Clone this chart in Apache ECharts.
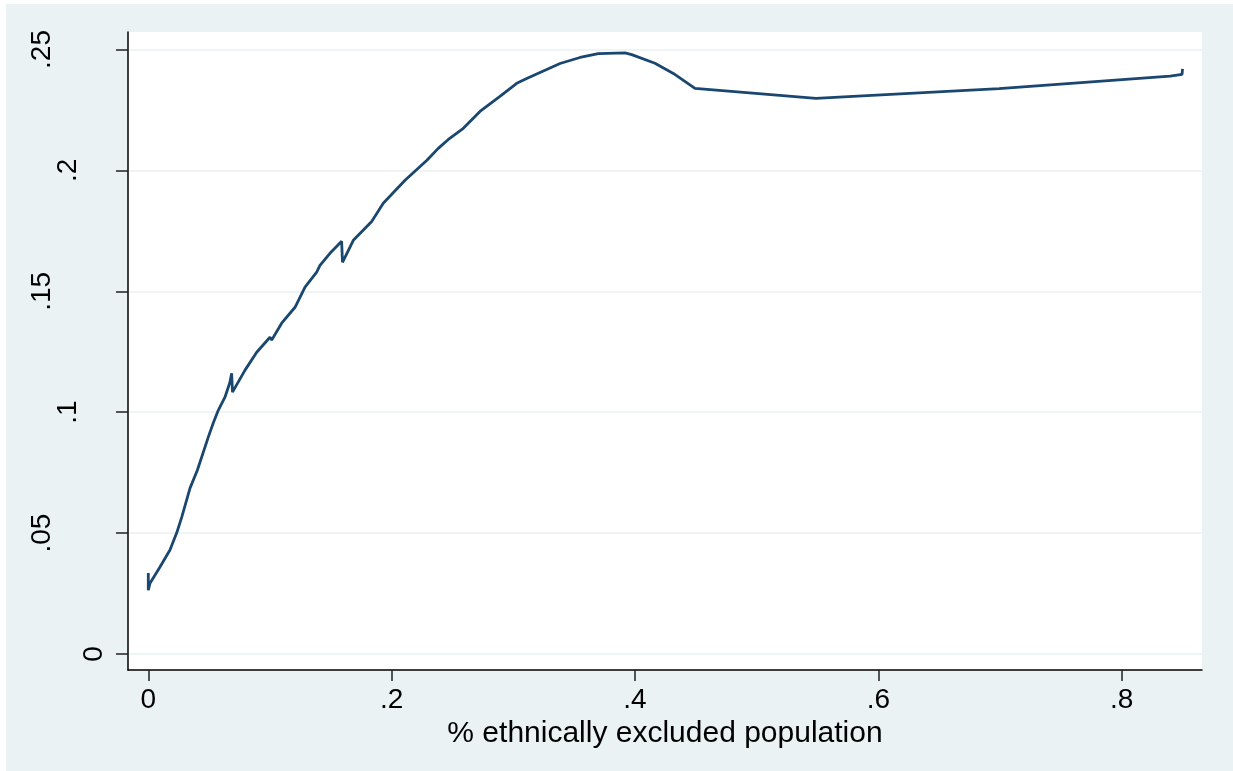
<!DOCTYPE html>
<html>
<head>
<meta charset="utf-8">
<script src="https://cdn.jsdelivr.net/npm/echarts@6/dist/echarts.min.js"></script>
<style>
  html, body { margin: 0; padding: 0; background: #fff; }
  #chart { position: absolute; left: 6px; top: 4px; width: 1227px; height: 767px; }
</style>
</head>
<body>
<div id="chart"></div>
<script>
// share of excluded population (x) and fitted value (y)
var xValues = [
  0, 0, 0.0014, 0.0096, 0.0178, 0.0233, 0.0275, 0.0343, 0.0403, 0.0493,
  0.0534, 0.0575, 0.0630, 0.0671, 0.0685, 0.0692, 0.0795, 0.0891, 0.1000, 0.1014,
  0.1096, 0.1206, 0.1288, 0.1384, 0.1411, 0.1493, 0.1589, 0.1596, 0.1685, 0.1836,
  0.1931, 0.2110, 0.2288, 0.2383, 0.2466, 0.2589, 0.2726, 0.2890, 0.3028, 0.3110,
  0.3384, 0.3548, 0.3698, 0.3918, 0.3973, 0.4164, 0.4315, 0.4493, 0.5488, 0.5792,
  0.5808, 0.6992, 0.7008, 0.8398, 0.8406, 0.8496, 0.8500
];
var yValues = [
  0.0335, 0.0264, 0.0293, 0.0360, 0.0430, 0.0500, 0.0566, 0.0686, 0.0760, 0.0897,
  0.0955, 0.1008, 0.1062, 0.1124, 0.1161, 0.1083, 0.1174, 0.1248, 0.1310, 0.1298,
  0.1368, 0.1434, 0.1517, 0.1579, 0.1607, 0.1657, 0.1707, 0.1620, 0.1711, 0.1789,
  0.1864, 0.1959, 0.2041, 0.2091, 0.2128, 0.2174, 0.2244, 0.2306, 0.2360, 0.2380,
  0.2442, 0.2467, 0.2483, 0.2486, 0.2479, 0.2443, 0.2401, 0.2339, 0.2298, 0.2306,
  0.2298, 0.2338, 0.2345, 0.2390, 0.2397, 0.2397, 0.2420
];
var xTickValues = [0, 0.2, 0.4, 0.6, 0.8];
var xTickLabels = ['0', '.2', '.4', '.6', '.8'];
var yTickValues = [0, 0.05, 0.1, 0.15, 0.2, 0.25];
var yTickLabels = ['0', '.05', '.1', '.15', '.2', '.25'];

function lookup(values, labels, v) {
  for (var i = 0; i < values.length; i++) {
    if (Math.abs(values[i] - v) < 1e-9) return labels[i];
  }
  return '';
}

var points = xValues.map(function (x, i) { return [x, yValues[i]]; });

var myChart = echarts.init(document.getElementById('chart'));
var font = '"Liberation Sans", Arial, sans-serif';

var option = {
  backgroundColor: '#eaf2f3',
  animation: false,
  grid: {
    left: 122, top: 28, right: 31, bottom: 101,
    show: true, backgroundColor: '#ffffff', borderWidth: 0
  },
  xAxis: {
    type: 'value',
    min: -0.01668,
    max: 0.866,
    name: '% ethnically excluded population',
    nameLocation: 'middle',
    nameGap: 43,
    nameTextStyle: { fontSize: 30, color: '#000', fontFamily: font },
    axisLine: { show: true, onZero: false, lineStyle: { color: '#000', width: 1.5 } },
    axisTick: { show: true, length: 11, customValues: xTickValues, lineStyle: { color: '#222', width: 1.5 } },
    axisLabel: {
      customValues: xTickValues,
      margin: 16,
      fontSize: 28,
      color: '#000',
      fontFamily: font,
      formatter: function (v) { return lookup(xTickValues, xTickLabels, v); }
    },
    splitLine: { show: false }
  },
  yAxis: {
    type: 'value',
    min: -0.00662,
    max: 0.25724,
    axisLine: { show: true, onZero: false, lineStyle: { color: '#000', width: 1.5 } },
    axisTick: { show: true, length: 12, customValues: yTickValues, lineStyle: { color: '#222', width: 1.5 } },
    axisLabel: {
      customValues: yTickValues,
      rotate: 90,
      margin: 20,
      fontSize: 28,
      color: '#000',
      fontFamily: font,
      formatter: function (v) {
        var s = lookup(yTickValues, yTickLabels, v);
        return '{p' + s.length + '|' + s + '}';
      },
      rich: {
        p1: { fontSize: 28, fontFamily: font, color: '#000', padding: [0, 0, 0, 0] },
        p2: { fontSize: 28, fontFamily: font, color: '#000', padding: [0, 0, 26, 0] },
        p3: { fontSize: 28, fontFamily: font, color: '#000', padding: [0, 0, 52, 0] }
      }
    },
    splitLine: { show: true, lineStyle: { color: '#eaf2f3', width: 1.5 } }
  },
  series: [
    {
      type: 'line',
      data: points,
      showSymbol: false,
      lineStyle: { color: '#1a476f', width: 2.8 },
      itemStyle: { color: '#1a476f' }
    }
  ]
};

myChart.setOption(option);
window.addEventListener('resize', function () { myChart.resize(); });
</script>
</body>
</html>
